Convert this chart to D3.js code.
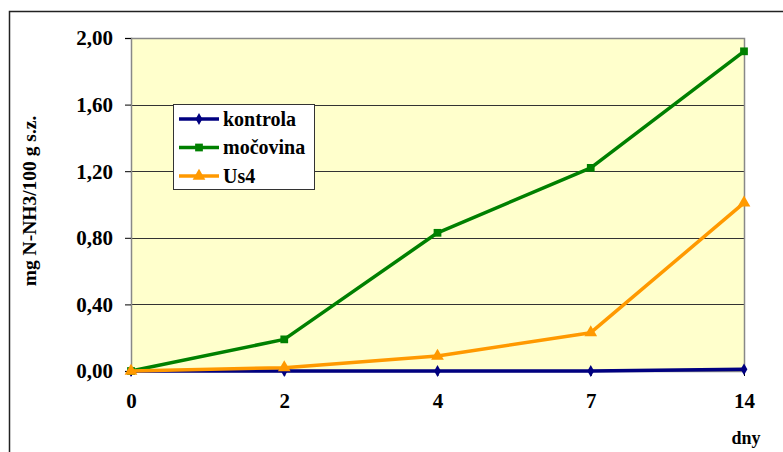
<!DOCTYPE html>
<html>
<head>
<meta charset="utf-8">
<script src="https://cdn.jsdelivr.net/npm/d3@7"></script>
<style>
  html, body { margin: 0; padding: 0; background: #fff; }
  svg { display: block; }
  svg text { font-family: "Liberation Serif", "DejaVu Serif", serif; font-weight: bold; fill: #000; }
</style>
</head>
<body>
<svg id="chart" width="783" height="452"></svg>
<script>
// Days of measurement (categorical axis)
const days = ["0", "2", "4", "7", "14"];
// N-NH3 content, mg per 100 g of dry matter
const kontrola = [0.00, 0.00, 0.00, 0.00, 0.01];
const mocovina = [0.00, 0.19, 0.83, 1.22, 1.92];
const us4 = [0.00, 0.02, 0.09, 0.23, 1.01];
const yTicks = [0, 0.4, 0.8, 1.2, 1.6, 2.0];

const seriesList = [
  { name: "kontrola", values: kontrola, color: "#000080", marker: "diamond" },
  { name: "močovina", values: mocovina, color: "#008000", marker: "square" },
  { name: "Us4", values: us4, color: "#FF9900", marker: "triangle" }
];

const svg = d3.select("#chart");

// Outer chart frame (runs off the right and bottom edges)
svg.append("path")
  .attr("d", "M9.5,460 V11.5 H790")
  .attr("fill", "none")
  .attr("stroke", "#222")
  .attr("stroke-width", 1.5);

const plot = { left: 131, right: 744, top: 38, bottom: 371 };

const x = d3.scalePoint().domain(days).range([plot.left, plot.right]);
const y = d3.scaleLinear().domain([0, 2]).range([plot.bottom, plot.top]);

// Plot area background
svg.append("rect")
  .attr("x", plot.left).attr("y", plot.top)
  .attr("width", plot.right - plot.left).attr("height", plot.bottom - plot.top)
  .attr("fill", "#FFFFCC");

// Horizontal gridlines
svg.append("g")
  .selectAll("line")
  .data(yTicks.filter(d => d > 0 && d < 2))
  .join("line")
  .attr("x1", plot.left).attr("x2", plot.right)
  .attr("y1", d => Math.round(y(d)) + 0.5).attr("y2", d => Math.round(y(d)) + 0.5)
  .attr("stroke", "#333").attr("stroke-width", 1);

// Plot border (top and right, gray)
svg.append("path")
  .attr("d", `M${plot.left},${plot.top + 0.5} H${plot.right + 0.5} V${plot.bottom}`)
  .attr("fill", "none").attr("stroke", "#888").attr("stroke-width", 1.5);

// Y axis
const yAxis = d3.axisLeft(y)
  .tickValues(yTicks)
  .tickSize(6)
  .tickPadding(12)
  .tickFormat(d => d3.format(".2f")(d).replace(".", ","));
const yg = svg.append("g").attr("transform", `translate(${plot.left},0)`).call(yAxis);
yg.attr("font-family", null).attr("font-size", null);
yg.select(".domain").attr("stroke", "#888").attr("stroke-width", 1.5);
yg.selectAll(".tick line").attr("stroke", "#000");
yg.selectAll(".tick text").style("font-size", "21px").attr("dy", "0.33em");

// X axis
const xAxis = d3.axisBottom(x).tickSize(5).tickPadding(17).tickSizeOuter(0);
const xg = svg.append("g").attr("transform", `translate(0,${plot.bottom})`).call(xAxis);
xg.attr("font-family", null).attr("font-size", null);
xg.select(".domain").attr("stroke", "#888").attr("stroke-width", 1.5);
xg.selectAll(".tick line").attr("stroke", "#000");
xg.selectAll(".tick text").style("font-size", "21px");

// Axis titles
svg.append("text")
  .attr("transform", "translate(36,201) rotate(-90)")
  .attr("text-anchor", "middle")
  .style("font-size", "19.5px")
  .text("mg N-NH3/100 g s.z.");

svg.append("text")
  .attr("x", 746).attr("y", 444)
  .attr("text-anchor", "middle")
  .style("font-size", "18px")
  .text("dny");

// Marker symbols
function markerPath(type) {
  if (type === "diamond") return d3.symbol(d3.symbolDiamond, 40)();
  if (type === "square") return d3.symbol(d3.symbolSquare, 60)();
  return d3.symbol(d3.symbolTriangle, 70)();
}

const line = d3.line().x((d, i) => x(days[i])).y(d => y(d));

// Draw series, control first so others lie above it
seriesList.forEach(s => {
  const g = svg.append("g");
  g.append("path")
    .attr("d", line(s.values))
    .attr("fill", "none")
    .attr("stroke", s.color)
    .attr("stroke-width", 3.5)
    .attr("stroke-linejoin", "round");
  g.selectAll("path.m")
    .data(s.values)
    .join("path")
    .attr("class", "m")
    .attr("transform", (d, i) => `translate(${x(days[i])},${y(d)})`)
    .attr("d", markerPath(s.marker))
    .attr("fill", s.color);
});

// Legend
const lg = svg.append("g").attr("transform", "translate(173,104)");
lg.append("rect")
  .attr("x", 0.5).attr("y", 0.5).attr("width", 141).attr("height", 85)
  .attr("fill", "#fff").attr("stroke", "#333").attr("stroke-width", 1);
seriesList.forEach((s, i) => {
  const cy = 15 + i * 28.5;
  lg.append("line")
    .attr("x1", 6).attr("x2", 46).attr("y1", cy).attr("y2", cy)
    .attr("stroke", s.color).attr("stroke-width", 3.5);
  lg.append("path")
    .attr("transform", `translate(26,${cy})`)
    .attr("d", markerPath(s.marker))
    .attr("fill", s.color);
  lg.append("text")
    .attr("x", 50).attr("y", cy + 6.5)
    .style("font-size", "20px")
    .text(s.name);
});
</script>
</body>
</html>
